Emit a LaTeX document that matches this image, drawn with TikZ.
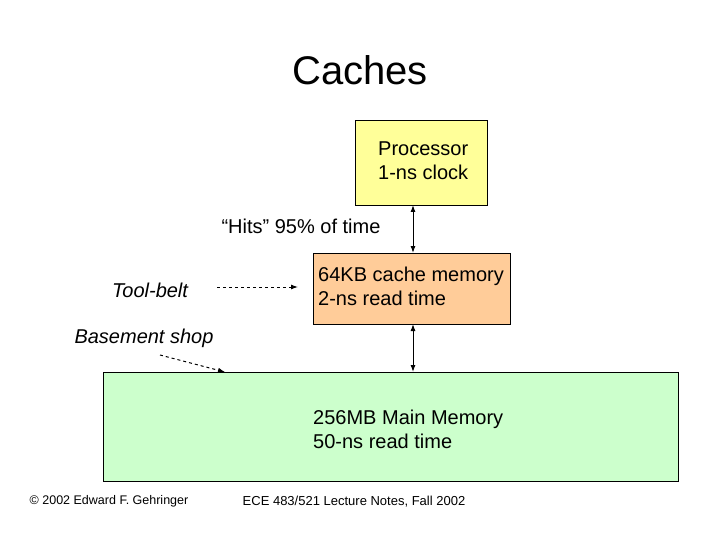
\documentclass[tikz,border=0pt]{standalone}
\usepackage{fontspec}
\setmainfont{Liberation Sans}
\usetikzlibrary{arrows.meta}
\definecolor{procfill}{RGB}{255,255,153}
\definecolor{cachefill}{RGB}{255,204,153}
\definecolor{memfill}{RGB}{204,255,204}
\begin{document}
\begin{tikzpicture}[x=1pt,y=1pt,yscale=-1,
  box/.style={draw=black,line width=0.6pt},
  lbl/.style={font=\fontsize{20}{24}\selectfont,align=left,inner sep=0pt},
  ilbl/.style={lbl,font=\fontsize{20}{24}\selectfont\itshape},
  dbl/.style={{Latex[length=7pt,width=5pt]}-{Latex[length=7pt,width=5pt]},line width=1pt},
  dsh/.style={-{Latex[length=7pt,width=5pt]},dashed,line width=1pt}]
\useasboundingbox (0,0) rectangle (720,540);
\node[font=\fontsize{40}{46}\selectfont] (title) at (360,70) {Caches};
\draw[box,fill=procfill] (355,120) rectangle (487,205);
\node[lbl,anchor=west] (proc) at (378,161) {Processor\\1-ns clock};
\draw[box,fill=cachefill] (313,253) rectangle (510,324);
\node[lbl,anchor=west] (cache) at (318,286) {64KB cache memory\\2-ns read time};
\draw[box,fill=memfill] (103,372) rectangle (678,481);
\node[lbl,anchor=west] (mem) at (313,429) {256MB Main Memory\\50-ns read time};
\coordinate (p1) at (413,205); \coordinate (c1) at (413,253);
\coordinate (c2) at (413,324); \coordinate (m1) at (413,372);
\draw[dbl] (p1) -- (c1);
\draw[dbl] (c2) -- (m1);
\node[lbl] (hits) at (301,226) {“Hits” 95\% of time};
\node[ilbl] (tool) at (150,290) {Tool-belt};
\node[ilbl] (base) at (144,338) {Basement shop};
\coordinate (t1) at (217,287); \coordinate (t2) at (298,287);
\draw[dsh] (t1) -- (t2);
\coordinate (b1) at (160,355); \coordinate (b2) at (225,372);
\draw[dsh] (b1) -- (b2);
\node[font=\fontsize{12.5}{14}\selectfont] (copy) at (109,501) {© 2002 Edward F. Gehringer};
\node[font=\fontsize{13}{15}\selectfont] (foot) at (354,502) {ECE 483/521 Lecture Notes, Fall 2002};
\end{tikzpicture}
\end{document}
